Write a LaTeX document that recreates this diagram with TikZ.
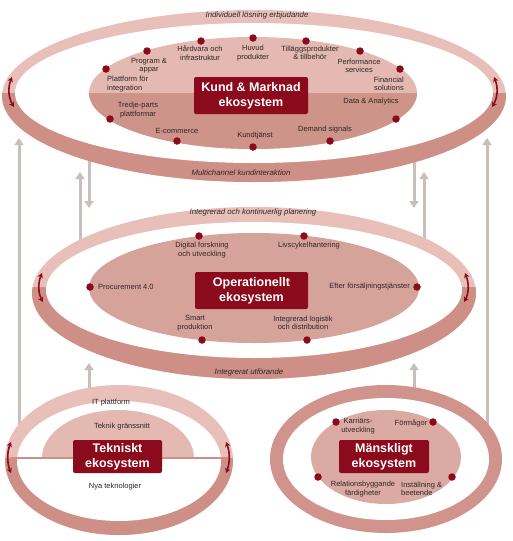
\documentclass[tikz,border=0pt]{standalone}
\usepackage{fontspec}
\setmainfont{Liberation Sans}
\usetikzlibrary{arrows.meta}
\definecolor{ringlight}{HTML}{E8C0B9}
\definecolor{ringdark}{HTML}{CE8F87}
\definecolor{innerlight}{HTML}{E3B9B1}
\definecolor{innerdark}{HTML}{CE948A}
\definecolor{midinner}{HTML}{D6A39A}
\definecolor{humanring}{HTML}{D1948C}
\definecolor{humaninner}{HTML}{DBAAA2}
\definecolor{darkred}{HTML}{8B0B1C}
\definecolor{arrowgray}{HTML}{C9BFBA}
\definecolor{labelgray}{HTML}{2E2626}
\begin{document}
\begin{tikzpicture}[x=1pt, y=-1pt,
  lbl/.style={font=\fontsize{7.5}{8.5}\selectfont, text=labelgray, align=center, inner sep=0pt},
  ringlbl/.style={font=\fontsize{7.8}{9}\selectfont\itshape, text=labelgray, inner sep=0pt},
  dot/.style={circle, fill=darkred, minimum size=7.5pt, inner sep=0pt},
  eco/.style={rectangle, rounded corners=2pt, fill=darkred, text=white, align=center,
    font=\fontsize{12.5}{15}\selectfont\bfseries, inner sep=0pt},
  flow/.style={draw=arrowgray, line width=3pt, -{Triangle[width=9pt,length=7pt]}},
  turn/.style={draw=darkred, line width=1.6pt, {Stealth[length=5pt,width=5.5pt]}-{Stealth[length=5pt,width=5.5pt]}}
]
\useasboundingbox (0,0) rectangle (513,541);

% grey links between the ecosystems
\coordinate (tekbase) at (19,430);   \coordinate (kmleft) at (19,138);
\coordinate (opup) at (80,245);      \coordinate (kmupl) at (80,172);
\coordinate (kmdownl) at (89,155);   \coordinate (opdownl) at (89,208);
\coordinate (tekup) at (89,395);     \coordinate (opbotl) at (89,363);
\coordinate (manbase) at (487,430);  \coordinate (kmright) at (487,138);
\coordinate (opupr) at (424,245);    \coordinate (kmupr) at (424,172);
\coordinate (kmdownr) at (414,155);  \coordinate (opdownr) at (414,208);
\coordinate (manup) at (414,393);    \coordinate (opbotr) at (414,363);
\draw[flow] (tekbase) -- (kmleft);
\draw[flow] (opup) -- (kmupl);
\draw[flow] (kmdownl) -- (opdownl);
\draw[flow] (tekup) -- (opbotl);
\draw[flow] (manbase) -- (kmright);
\draw[flow] (opupr) -- (kmupr);
\draw[flow] (kmdownr) -- (opdownr);
\draw[flow] (manup) -- (opbotr);

% Kund & Marknad
\fill[ringlight] (254,96) ellipse [x radius=252, y radius=86];
\begin{scope}
  \clip (0,93) rectangle (513,190);
  \fill[ringdark] (254,96) ellipse [x radius=252, y radius=86];
\end{scope}
\fill[white] (254,93) ellipse [x radius=239, y radius=70];
\fill[innerlight] (253,93) ellipse [x radius=164, y radius=56];
\begin{scope}
  \clip (0,93) rectangle (513,160);
  \fill[innerdark] (253,93) ellipse [x radius=164, y radius=56];
\end{scope}
\draw[turn] (12,77) .. controls (8,87) and (8,97) .. (14,107);
\draw[turn] (494,77) .. controls (498,87) and (498,97) .. (492,107);
\node[ringlbl] (individ) at (257,15) {Individuell lösning erbjudande};
\node[ringlbl] (multich) at (241,173) {Multichannel kundinteraktion};
\node[eco, minimum width=114pt, minimum height=37pt] (km) at (251,95.5) {Kund \& Marknad\\ekosystem};
\foreach \x/\y [count=\i] in {106/69, 147/51, 201/41, 253/38, 306/41, 360/51, 400/69,
    396/119, 330/141, 253/147, 177/141, 110/119}
  \node[dot] (km\i) at (\x,\y) {};
\node[lbl, align=left, anchor=west] (plattform) at (107,84) {Plattform för\\integration};
\node[lbl] (program) at (149,65.5) {Program \&\\appar};
\node[lbl] (hardvara) at (200,53) {Hårdvara och\\infrastruktur};
\node[lbl] (huvud) at (253,53) {Huvud\\produkter};
\node[lbl] (tillagg) at (310,53) {Tilläggsprodukter\\\& tillbehör};
\node[lbl] (perform) at (359,66) {Performance\\services};
\node[lbl, align=right, anchor=east] (financial) at (404,84) {Financial\\solutions};
\node[lbl] (data) at (371,102) {Data \& Analytics};
\node[lbl] (demand) at (325,130) {Demand signals};
\node[lbl] (kundtj) at (255,136) {Kundtjänst};
\node[lbl] (ecom) at (177,131) {E-commerce};
\node[lbl] (tredje) at (138,110) {Tredje-parts\\plattformar};

% Operationellt
\fill[ringlight] (254,293) ellipse [x radius=222, y radius=86];
\begin{scope}
  \clip (0,287) rectangle (513,390);
  \fill[ringdark] (254,293) ellipse [x radius=222, y radius=86];
\end{scope}
\fill[white] (254,290) ellipse [x radius=208, y radius=68];
\fill[midinner] (254,288) ellipse [x radius=165, y radius=55];
\draw[turn] (42,273) .. controls (38,283) and (38,293) .. (43,302);
\draw[turn] (465,273) .. controls (469,283) and (469,293) .. (464,302);
\node[ringlbl] (planering) at (253,212) {Integrerad och kontinuerlig planering};
\node[ringlbl] (utforande) at (249,372) {Integrerat utförande};
\node[eco, minimum width=113pt, minimum height=37pt] (op) at (251.5,290.5) {Operationellt\\ekosystem};
\foreach \x/\y [count=\i] in {199/236, 304/236, 90/287, 417/287, 202/340, 307/340}
  \node[dot] (op\i) at (\x,\y) {};
\node[lbl] (digital) at (202,250) {Digital forskning\\och utveckling};
\node[lbl] (livscykel) at (309,246) {Livscykelhantering};
\node[lbl, anchor=west] (procure) at (98,287) {Procurement 4.0};
\node[lbl, anchor=east] (efter) at (410,287) {Efter försäljningstjänster};
\node[lbl] (smart) at (195,323) {Smart\\produktion};
\node[lbl] (logistik) at (303,323) {Integrerad logistik\\och distribution};

% Tekniskt
\fill[ringlight] (119,460) ellipse [x radius=114, y radius=75];
\begin{scope}
  \clip (0,458) rectangle (250,541);
  \fill[ringdark] (119,460) ellipse [x radius=114, y radius=75];
\end{scope}
\fill[white] (119,461) ellipse [x radius=102, y radius=60];
\begin{scope}
  \clip (0,380) rectangle (250,458);
  \fill[innerlight] (118,458) ellipse [x radius=76, y radius=48];
\end{scope}
\draw[ringdark, line width=2.5pt] (10,458) -- (228,458);
\draw[turn] (11,442) .. controls (7,452) and (7,463) .. (11,473);
\draw[turn] (226,442) .. controls (230,452) and (230,463) .. (226,473);
\node[eco, minimum width=89pt, minimum height=33pt] (tek) at (117.5,456.5) {Tekniskt\\ekosystem};
\node[lbl] (itplatt) at (111,403) {IT plattform};
\node[lbl] (teknik) at (122,427) {Teknik gränssnitt};
\node[lbl] (nyatek) at (115,487) {Nya teknologier};

% Mänskligt
\fill[humanring] (386,459) ellipse [x radius=116, y radius=74];
\fill[white] (386,459) ellipse [x radius=103, y radius=61];
\fill[humaninner] (386,457) ellipse [x radius=75, y radius=47];
\node[eco, minimum width=90pt, minimum height=33pt] (man) at (384,456.5) {Mänskligt\\ekosystem};
\foreach \x/\y [count=\i] in {336/422, 433/422, 318/477, 452/477}
  \node[dot] (man\i) at (\x,\y) {};
\node[lbl] (karriar) at (358,426) {Karriärs-\\utveckling};
\node[lbl] (formagor) at (411,423) {Förmågor};
\node[lbl] (relation) at (363,489) {Relationsbyggande\\färdigheter};
\node[lbl, align=left, anchor=west] (installning) at (401,489) {Inställning \&\\beetende};
\end{tikzpicture}
\end{document}
